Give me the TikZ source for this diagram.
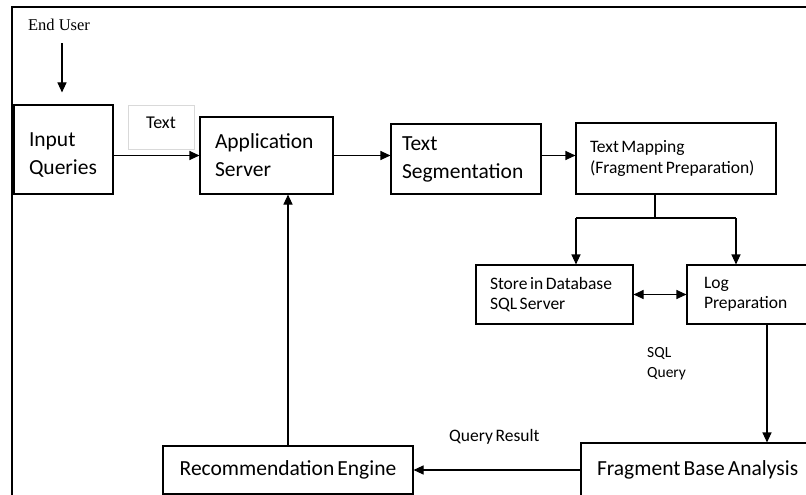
\documentclass[tikz,border=0pt]{standalone}
\usepackage{fontspec}
\setmainfont{Carlito}[WordSpace=0.65]
\newfontfamily\enduserfont{Liberation Serif}
\usetikzlibrary{arrows.meta}

\tikzset{
  blk/.style={draw, line width=1.1pt, align=flush left, inner ysep=0pt, font=\fontsize{21.5}{28}\selectfont},
  smallblk/.style={blk, font=\fontsize{17.5}{20.5}\selectfont},
  arr/.style={line width=1.1pt, -{Triangle[length=10pt,width=9pt]}},
  darr/.style={line width=1.1pt, {Triangle[length=10pt,width=9pt]}-{Triangle[length=10pt,width=9pt]}},
  lbl/.style={inner sep=0pt, align=flush left},
}

\begin{document}
\begin{tikzpicture}[x=1pt,y=-1pt]
\useasboundingbox (0,0) rectangle (806,495);
\draw[line width=2.5pt, line join=miter] (806,7) -- (12,7) -- (12,495);

\node[font=\enduserfont\fontsize{16.5}{18}\selectfont, inner sep=0pt] (user) at (59,25) {End User};

\node[blk, inner xsep=15pt, text width=69pt, minimum height=89pt, text depth=20pt] (inq) at (63.5,149.5) {Input\\Queries};
\node[draw=black!15, line width=0.8pt, minimum width=66pt, minimum height=44pt, text depth=8pt, font=\fontsize{18}{20}\selectfont] (txt) at (161,127) {Text};
\node[blk, inner xsep=15pt, text width=103pt, minimum height=77pt] (app) at (266.5,155.5) {Application\\Server};
\node[blk, inner xsep=11pt, text width=128pt, minimum height=70pt] (seg) at (466,159) {Text\\Segmentation};
\node[smallblk, inner xsep=14pt, text width=172pt, minimum height=71pt] (map) at (676,158.5) {Text Mapping\\(Fragment Preparation)};

\node[smallblk, inner xsep=14pt, text width=129pt, minimum height=59pt] (store) at (554.5,294.5) {Store in Database\\SQL Server};
\node[smallblk, inner xsep=17pt, text width=109pt, minimum height=59pt] (log) at (758.5,294.5) {Log\\Preparation};

\node[blk, inner xsep=16pt, text width=217pt, minimum height=54pt] (frag) at (705.5,470) {Fragment Base Analysis};
\node[blk, align=flush center, inner xsep=10pt, text width=230pt, minimum height=48pt] (rec) at (288,470) {Recommendation Engine};

\node[lbl, anchor=north west, font=\fontsize{15.5}{20}\selectfont] (sql) at (647,347) {SQL\\Query};
\node[lbl, anchor=west, font=\fontsize{17.5}{20}\selectfont] (qres) at (449,437) {Query Result};

\coordinate (fork) at (655,218);
\coordinate (forkL) at (576,218);
\coordinate (forkR) at (736,218);

\draw[arr, shorten <=12pt, shorten >=12pt] ([xshift=3pt]user.south) -- ([xshift=3pt]user.south |- inq.north);
\draw[arr] (inq.east |- app.west) -- (app.west);
\draw[arr] (app.east) -- (app.east -| seg.west);
\draw[arr] (seg.east |- app.east) -- (map.west |- app.east);
\draw[line width=1.1pt] (fork |- map.south) -- (fork);
\draw[line width=1.1pt] (forkL) -- (forkR);
\draw[arr] (forkL) -- (forkL |- store.north);
\draw[arr] (forkR) -- (forkR |- log.north);
\draw[darr] (store.east) -- (store.east -| log.west);
\draw[arr] ([xshift=8.5pt]log.south) -- ([xshift=8.5pt]log.south |- frag.north);
\draw[arr] (frag.west |- rec.east) -- (rec.east);
\draw[arr] (rec.north) -- (rec.north |- app.south);
\end{tikzpicture}
\end{document}
